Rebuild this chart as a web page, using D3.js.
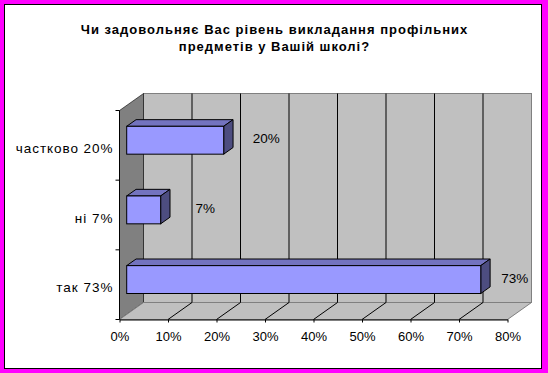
<!DOCTYPE html>
<html>
<head>
<meta charset="utf-8">
<script src="https://cdn.jsdelivr.net/npm/d3@7"></script>
<style>
  html, body { margin: 0; padding: 0; background: #ff00ff; }
  svg { display: block; font-family: Arial, "Liberation Sans", sans-serif; }
</style>
</head>
<body>
<div id="chart"></div>
<script>
// дані
var categories = ["частково 20%", "ні 7%", "так 73%"];
var values = [0.20, 0.07, 0.73];
var tickValues = [0, 0.1, 0.2, 0.3, 0.4, 0.5, 0.6, 0.7, 0.8];
var titleLines = ["Чи задовольняє Вас рівень викладання профільних", "предметів у Вашій школі?"];

var W = 548, H = 373;
var svg = d3.select('#chart').append('svg')
    .attr('width', W)
    .attr('height', H);

// Windows-шрифт ширший за Liberation, тож трохи розтягуємо кирилицю
function widen(sel, k) {
    sel.each(function() {
        var w = this.getComputedTextLength();
        d3.select(this).attr('textLength', w * k).attr('lengthAdjust', 'spacing');
    });
}

// білий фон з чорною рамкою
svg.append('rect')
    .attr('x', 4.5).attr('y', 4.5)
    .attr('width', 537).attr('height', 364)
    .attr('fill', '#fff')
    .attr('stroke', '#000')
    .attr('stroke-width', 1);

// заголовок
var title = svg.append('g')
    .attr('font-size', '13px')
    .attr('font-weight', 'bold')
    .selectAll('text')
    .data(titleLines)
    .enter().append('text')
    .attr('x', 274)
    .attr('y', function(d, i) { return 33.5 + i * 17; })
    .attr('text-anchor', 'middle')
    .text(function(d) { return d; });
widen(title, 1.135);

// шкали (передня площина)
var x = d3.scaleLinear().domain([0, 0.8]).range([119.5, 507.5]);
var y = d3.scaleBand().domain(categories).range([110.5, 319.5]);
// глибина 3D
var ddx = 24, ddy = -17;
var t1 = 0.3, t2 = 0.69; // передня/задня грань стовпчика по глибині
var yTop = y.range()[0], yBot = y.range()[1];

function pt(a) { return a.map(function(p) { return p.join(','); }).join(' '); }

// задня стінка
svg.append('rect')
    .attr('x', x(0) + ddx).attr('y', yTop + ddy)
    .attr('width', x(0.8) - x(0)).attr('height', yBot - yTop)
    .attr('fill', '#c0c0c0')
    .attr('stroke', '#808080');

// бокова стінка
svg.append('polygon')
    .attr('points', pt([[x(0), yTop], [x(0) + ddx, yTop + ddy], [x(0) + ddx, yBot + ddy], [x(0), yBot]]))
    .attr('fill', '#808080')
    .attr('stroke', '#000')
    .attr('stroke-width', 0.6);

// підлога
svg.append('polygon')
    .attr('points', pt([[x(0), yBot], [x(0.8), yBot], [x(0.8) + ddx, yBot + ddy], [x(0) + ddx, yBot + ddy]]))
    .attr('fill', '#c0c0c0')
    .attr('stroke', '#808080');

// сітка: вертикальні лінії на задній стінці та діагоналі на підлозі
var inner = tickValues.filter(function(v) { return v > 0 && v < 0.8; });
svg.append('g').selectAll('line')
    .data(inner).enter().append('line')
    .attr('x1', function(d) { return x(d) + ddx; })
    .attr('x2', function(d) { return x(d) + ddx; })
    .attr('y1', yTop + ddy)
    .attr('y2', yBot + ddy)
    .attr('stroke', '#000');
svg.append('g').selectAll('line')
    .data(inner).enter().append('line')
    .attr('x1', function(d) { return x(d); })
    .attr('x2', function(d) { return x(d) + ddx; })
    .attr('y1', yBot)
    .attr('y2', yBot + ddy)
    .attr('stroke', '#000');

// стовпчики
var bh = y.bandwidth() * 0.4;
var dx2 = (t2 - t1) * ddx, dy2 = (t2 - t1) * ddy;
var bars = svg.append('g').selectAll('g')
    .data(categories).enter().append('g');

bars.each(function(c, i) {
    var g = d3.select(this);
    var yc = y(c) + y.bandwidth() / 2;
    var x0 = x(0) + t1 * ddx, x1 = x(values[i]) + t1 * ddx;
    var y0 = yc - bh / 2 + t1 * ddy, y1 = y0 + bh;
    g.append('polygon')
        .attr('points', pt([[x0, y0], [x1, y0], [x1 + dx2, y0 + dy2], [x0 + dx2, y0 + dy2]]))
        .attr('fill', '#7373bf').attr('stroke', '#000').attr('stroke-linejoin', 'round');
    g.append('polygon')
        .attr('points', pt([[x1, y0], [x1 + dx2, y0 + dy2], [x1 + dx2, y1 + dy2], [x1, y1]]))
        .attr('fill', '#4d4d80').attr('stroke', '#000').attr('stroke-linejoin', 'round');
    g.append('rect')
        .attr('x', x0).attr('y', y0)
        .attr('width', x1 - x0).attr('height', bh)
        .attr('fill', '#9999ff').attr('stroke', '#000');
});

// підписи значень (Excel зсуває їх трохи за край стовпчика)
var labelX = d3.scaleLinear().domain([0, 0.8]).range([172.5, 547.7]);
svg.append('g').selectAll('text')
    .data(categories).enter().append('text')
    .attr('x', function(d, i) { return labelX(values[i]); })
    .attr('y', function(d) { return y(d) + y.bandwidth() / 2 - 2; })
    .attr('text-anchor', 'middle')
    .attr('font-size', '13.5px')
    .text(function(d, i) { return d3.format('.0%')(values[i]); });

// вісь X
var xAxis = d3.axisBottom(x)
    .tickValues(tickValues)
    .tickFormat(d3.format('.0%'))
    .tickSize(3)
    .tickSizeOuter(0);
var gx = svg.append('g')
    .attr('transform', 'translate(0,' + yBot + ')')
    .call(xAxis);
gx.select('.domain').attr('stroke', '#000');
gx.selectAll('text')
    .attr('font-size', '13px')
    .attr('font-family', 'Arial, "Liberation Sans", sans-serif')
    .attr('fill', '#000')
    .attr('dy', '0')
    .attr('y', 21);

// вісь Y
svg.append('line')
    .attr('x1', x(0)).attr('x2', x(0))
    .attr('y1', yTop).attr('y2', yBot)
    .attr('stroke', '#000');
var bounds = categories.map(function(c) { return y(c); }).concat([yBot]);
svg.append('g').selectAll('line')
    .data(bounds).enter().append('line')
    .attr('x1', x(0) - 4).attr('x2', x(0))
    .attr('y1', function(d) { return d; })
    .attr('y2', function(d) { return d; })
    .attr('stroke', '#000');
var catLabels = svg.append('g').selectAll('text')
    .data(categories).enter().append('text')
    .attr('x', 112.5)
    .attr('y', function(d) { return y(d) + y.bandwidth() / 2 + 7.5; })
    .attr('text-anchor', 'end')
    .attr('font-size', '13.5px')
    .text(function(d) { return d; });
widen(catLabels, 1.12);
</script>
</body>
</html>
